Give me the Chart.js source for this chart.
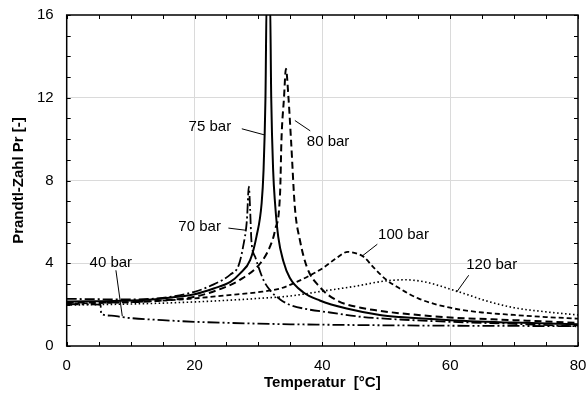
<!DOCTYPE html>
<html>
<head>
<meta charset="utf-8">
<script src="https://cdn.jsdelivr.net/npm/chart.js@4/dist/chart.umd.min.js"></script>
<style>
  html, body { margin: 0; padding: 0; background: #fff; }
  #wrap { width: 587px; height: 396px; }
</style>
</head>
<body>
<div id="wrap"><canvas id="prChart"></canvas></div>
<script>
// Temperatur [°C] / Prandtl-Zahl per pressure
const t40 = [0, 5.3, 5.4, 7, 8.6, 10, 15, 20, 25, 30, 35, 40, 50, 60, 70, 80];
const p40 = [2.02, 2.0, 1.55, 1.47, 1.40, 1.35, 1.25, 1.17, 1.12, 1.08, 1.05, 1.03, 1.0, 0.98, 0.97, 0.96];

const t70 = [0, 5, 10, 15, 20, 23, 25.6, 26.9, 27.6, 28.2, 28.5, 28.7, 28.9, 29.5, 30.8, 31.8, 33.4, 35, 37.6, 41.2, 46.4, 52.2, 60, 70, 80];
const p70 = [2.28, 2.26, 2.25, 2.33, 2.62, 2.98, 3.45, 3.9, 4.8, 6.1, 7.7, 6.6, 5.1, 4.3, 3.18, 2.7, 2.25, 1.98, 1.78, 1.62, 1.4, 1.28, 1.17, 1.07, 0.95];

const t75 = [0, 10, 15, 20, 23, 25.6, 27.1, 28.7, 29.7, 30.5, 30.8, 31.1, 31.3, 31.8, 32, 32.3, 32.6, 33.1, 33.9, 34.9, 37, 39.6, 43.8, 49, 52.2, 60, 70, 80];
const p75 = [2.15, 2.2, 2.3, 2.5, 2.78, 3.1, 3.5, 4.15, 5.3, 6.9, 8.5, 12, 17, 17, 12, 8.5, 6.9, 5.27, 4.1, 3.3, 2.6, 2.2, 1.81, 1.5, 1.4, 1.25, 1.13, 1.05];

const t80 = [0, 10, 15, 20, 24, 27.1, 30.3, 31.8, 32.6, 33.4, 33.6, 34, 34.3, 34.7, 35.1, 35.7, 36.5, 37.6, 39.6, 42.3, 46, 49, 52.2, 60, 70, 80];
const p80 = [2.1, 2.12, 2.2, 2.38, 2.75, 3.2, 4.0, 4.8, 5.6, 7.5, 9.95, 12, 13.4, 12, 9.95, 6.7, 5.1, 3.8, 2.85, 2.2, 1.85, 1.7, 1.58, 1.38, 1.25, 1.12];

const t100 = [0, 10, 20, 25, 30, 33.4, 36, 38, 40, 42, 44, 45, 46.5, 48, 50, 52, 55, 60, 65, 70, 75, 80];
const p100 = [2.05, 2.12, 2.3, 2.45, 2.6, 2.78, 3.1, 3.4, 3.75, 4.2, 4.55, 4.5, 4.3, 3.8, 3.2, 2.8, 2.3, 1.85, 1.62, 1.5, 1.4, 1.32];

const t120 = [0, 10, 20, 30, 35, 40, 45, 50, 53, 56, 60, 63, 66, 70, 75, 80];
const p120 = [1.98, 2.03, 2.13, 2.3, 2.42, 2.65, 2.88, 3.15, 3.2, 3.1, 2.75, 2.45, 2.15, 1.85, 1.65, 1.5];

const xTicks = [0, 20, 40, 60, 80];
const yTicks = [0, 4, 8, 12, 16];

// curve labels with leader lines (data units)
const notes = [
  { text: '40 bar', x: 6.9, y: 4.02, from: [7.7, 3.66], to: [8.7, 1.44] },
  { text: '70 bar', x: 20.8, y: 5.76, from: [25.3, 5.7], to: [27.9, 5.6] },
  { text: '75 bar', x: 22.4, y: 10.58, from: [27.4, 10.5], to: [31.0, 10.2] },
  { text: '80 bar', x: 40.9, y: 9.85, from: [38.1, 10.4], to: [35.7, 10.9] },
  { text: '100 bar', x: 52.7, y: 5.39, from: [48.6, 4.92], to: [46.2, 4.34] },
  { text: '120 bar', x: 66.5, y: 3.9, from: [62.9, 3.42], to: [61.0, 2.6] }
];

const pts = (t, p) => t.map((v, i) => ({ x: v, y: p[i] }));
const FONT = '"Liberation Sans", Arial, sans-serif';

function series(t, p, dash, width) {
  return {
    data: pts(t, p),
    borderColor: '#000',
    borderWidth: width,
    borderDash: dash,
    pointRadius: 0,
    cubicInterpolationMode: 'monotone',
    fill: false
  };
}

const overlay = {
  id: 'overlay',
  afterDatasetsDraw(chart) {
    const { ctx, chartArea: a, scales: { x, y } } = chart;
    ctx.save();
    ctx.strokeStyle = '#000';
    ctx.lineWidth = 1;
    ctx.setLineDash([]);
    ctx.beginPath();
    for (let v = 0; v <= 80; v += 5) {
      const px = Math.round(x.getPixelForValue(v)) + 0.5;
      ctx.moveTo(px, a.bottom); ctx.lineTo(px, a.bottom - 4);
      ctx.moveTo(px, a.top); ctx.lineTo(px, a.top + 4);
    }
    for (let v = 0; v <= 16; v += 1) {
      const py = Math.round(y.getPixelForValue(v)) + 0.5;
      ctx.moveTo(a.left, py); ctx.lineTo(a.left + 4, py);
      ctx.moveTo(a.right, py); ctx.lineTo(a.right - 4, py);
    }
    ctx.stroke();
    ctx.lineWidth = 1.5;
    ctx.strokeRect(a.left, a.top, a.right - a.left, a.bottom - a.top);

    ctx.lineWidth = 1;
    ctx.fillStyle = '#000';
    ctx.font = '15px ' + FONT;
    ctx.textAlign = 'center';
    ctx.textBaseline = 'middle';
    notes.forEach(n => {
      ctx.beginPath();
      ctx.moveTo(x.getPixelForValue(n.from[0]), y.getPixelForValue(n.from[1]));
      ctx.lineTo(x.getPixelForValue(n.to[0]), y.getPixelForValue(n.to[1]));
      ctx.stroke();
      ctx.fillText(n.text, x.getPixelForValue(n.x), y.getPixelForValue(n.y));
    });
    ctx.restore();
  }
};

const gridColor = (list) => (c) => {
  const v = c.tick && c.tick.value;
  return list.includes(v) ? '#dadada' : 'rgba(0,0,0,0)';
};

new Chart(document.getElementById('prChart'), {
  type: 'line',
  data: {
    datasets: [
      series(t40, p40, [12, 3, 2, 3, 2, 3], 1.8),
      series(t70, p70, [10, 3, 2, 3], 1.8),
      series(t75, p75, [], 2),
      series(t80, p80, [7, 4], 2),
      series(t100, p100, [5, 3], 1.8),
      series(t120, p120, [1.5, 2.5], 1.6)
    ]
  },
  options: {
    responsive: true,
    maintainAspectRatio: false,
    animation: false,
    layout: { padding: { top: 15, right: 9, bottom: 0, left: 0 } },
    plugins: { legend: { display: false }, tooltip: { enabled: false } },
    scales: {
      x: {
        type: 'linear',
        min: 0, max: 80,
        afterFit: s => { s.height = 50; s.paddingLeft = 0; s.paddingRight = 0; },
        grid: { color: gridColor([20, 40, 60]), drawTicks: false, lineWidth: 1 },
        border: { display: false },
        ticks: {
          stepSize: 20,
          padding: 11,
          color: '#000',
          font: { family: FONT, size: 15 },
          maxRotation: 0
        },
        title: {
          display: true,
          text: 'Temperatur  [°C]',
          color: '#000',
          font: { family: FONT, size: 15, weight: 'bold' },
          padding: { top: 0, bottom: 4 }
        }
      },
      y: {
        type: 'linear',
        min: 0, max: 16,
        afterFit: s => { s.width = 66.7; s.paddingTop = 0; s.paddingBottom = 0; },
        grid: { color: gridColor([4, 8, 12]), drawTicks: false, lineWidth: 1 },
        border: { display: false },
        ticks: {
          stepSize: 4,
          padding: 13,
          color: '#000',
          font: { family: FONT, size: 15 }
        },
        title: {
          display: true,
          text: 'Prandtl-Zahl Pr [-]',
          color: '#000',
          font: { family: FONT, size: 15, weight: 'bold' },
          padding: { top: 10, bottom: 0 }
        }
      }
    }
  },
  plugins: [overlay]
});
</script>
</body>
</html>
